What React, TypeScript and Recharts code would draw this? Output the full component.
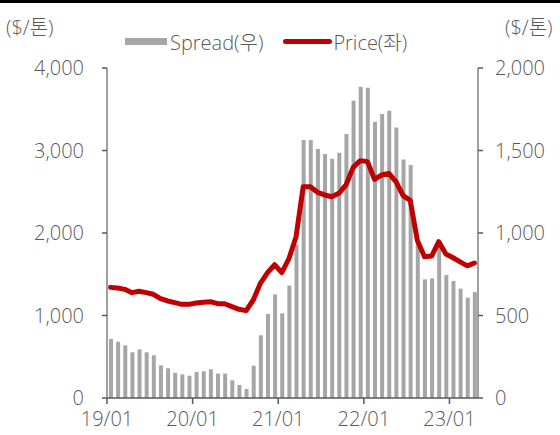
import React from "react";
import { ComposedChart, Bar, Line, XAxis, YAxis } from "recharts";

const months = [
  "19/01","19/02","19/03","19/04","19/05","19/06","19/07","19/08","19/09","19/10","19/11","19/12",
  "20/01","20/02","20/03","20/04","20/05","20/06","20/07","20/08","20/09","20/10","20/11","20/12",
  "21/01","21/02","21/03","21/04","21/05","21/06","21/07","21/08","21/09","21/10","21/11","21/12",
  "22/01","22/02","22/03","22/04","22/05","22/06","22/07","22/08","22/09","22/10","22/11","22/12",
  "23/01","23/02","23/03","23/04",
];

// Spread (right axis, $/톤)
const spread = [
  358, 341, 319, 277, 295, 277, 259, 198, 180, 153,
  143, 135, 158, 162, 174, 148, 148, 107, 79, 55,
  196, 380, 509, 628, 513, 681, 930, 1564, 1564, 1509,
  1479, 1450, 1487, 1600, 1802, 1887, 1881, 1675, 1721, 1741,
  1640, 1446, 1412, 950, 719, 725, 920, 745, 709, 663,
  608, 642,
];

// Price (left axis, $/톤)
const price = [
  1341, 1333, 1317, 1277, 1293, 1277, 1257, 1204, 1176, 1156,
  1135, 1135, 1152, 1160, 1168, 1143, 1143, 1107, 1075, 1059,
  1188, 1390, 1519, 1615, 1520, 1690, 1955, 2561, 2561, 2493,
  2461, 2440, 2481, 2582, 2796, 2877, 2865, 2651, 2703, 2723,
  2622, 2452, 2395, 1910, 1713, 1721, 1895, 1745, 1700, 1650,
  1602, 1636,
];

const xTicks = [0, 12, 24, 36, 48];
const leftTicks = [0, 1000, 2000, 3000, 4000];
const rightTicks = [0, 500, 1000, 1500, 2000];

const data = months.map((m, i) => ({
  x: i + 0.5,
  month: m,
  spread: spread[i],
  price: price[i],
}));

const FONT = "'Open Sans', 'Noto Sans CJK KR', sans-serif";
const TEXT = "#595959";
const AXIS = "#808080";
const XAXIS = "#595959";
const BAR = "#A6A6A6";
const RED = "#C00000";
const FS = 20;
const FW = 300;

const fmt = (v: number) => v.toLocaleString("en-US");

export default function App() {
  return (
    <div style={{ position: "absolute", left: 0, top: 0, width: 560, height: 435, background: "#fff" }}>
      <div style={{ position: "absolute", left: 0, top: 0, width: 560, height: 3, background: "#000" }} />
      <div
        style={{
          position: "absolute",
          left: 6,
          top: 12,
          fontFamily: FONT,
          fontSize: FS,
          fontWeight: FW,
          color: TEXT,
          whiteSpace: "nowrap",
        }}
      >
        ($/톤)
      </div>
      <div
        style={{
          position: "absolute",
          left: 505,
          top: 12,
          fontFamily: FONT,
          fontSize: FS,
          fontWeight: FW,
          color: TEXT,
          whiteSpace: "nowrap",
        }}
      >
        ($/톤)
      </div>
      <div
        style={{
          position: "absolute",
          left: 125,
          top: 27,
          display: "flex",
          alignItems: "center",
          fontFamily: FONT,
          fontSize: FS,
          fontWeight: FW,
          color: TEXT,
          whiteSpace: "nowrap",
        }}
      >
        <span style={{ display: "inline-block", width: 42, height: 7, background: BAR, marginRight: 3 }} />
        <span>Spread(우)</span>
        <span
          style={{
            display: "inline-block",
            width: 49,
            height: 5,
            borderRadius: 3,
            background: RED,
            marginLeft: 20,
            marginRight: 1,
          }}
        />
        <span>Price(좌)</span>
      </div>
      <ComposedChart
        width={560}
        height={435}
        data={data}
        margin={{ top: 68, right: 0, left: 0, bottom: 0 }}
        barCategoryGap={0}
        style={{ position: "absolute", left: 0, top: 0 }}
      >
        <XAxis
          xAxisId="x"
          dataKey="x"
          type="number"
          domain={[0, months.length]}
          ticks={xTicks}
          tickFormatter={(v: number) => months[v] ?? ""}
          height={37}
          axisLine={{ stroke: XAXIS, strokeWidth: 1.5 }}
          tickLine={{ stroke: XAXIS, strokeWidth: 1.5 }}
          tickSize={6}
          tickMargin={8}
          tick={{ fill: TEXT, fontSize: FS, fontFamily: FONT, fontWeight: FW }}
          interval={0}
          allowDecimals={false}
        />
        <YAxis
          yAxisId="left"
          orientation="left"
          domain={[0, 4000]}
          ticks={leftTicks}
          tickFormatter={fmt}
          width={107}
          axisLine={{ stroke: AXIS, strokeWidth: 1.5 }}
          tickLine={{ stroke: XAXIS, strokeWidth: 1.5 }}
          tickSize={5}
          tickMargin={18}
          tick={{ fill: TEXT, fontSize: FS, fontFamily: FONT, fontWeight: FW }}
          interval={0}
        />
        <YAxis
          yAxisId="right"
          orientation="right"
          domain={[0, 2000]}
          ticks={rightTicks}
          tickFormatter={fmt}
          width={82}
          axisLine={{ stroke: AXIS, strokeWidth: 1.5 }}
          tickLine={{ stroke: XAXIS, strokeWidth: 1.5 }}
          tickSize={5}
          tickMargin={12}
          tick={{ fill: TEXT, fontSize: FS, fontFamily: FONT, fontWeight: FW, textAnchor: "start" }}
          interval={0}
        />
        <Bar
          xAxisId="x"
          yAxisId="right"
          dataKey="spread"
          name="Spread(우)"
          fill={BAR}
          barSize={4}
          isAnimationActive={false}
        />
        <Line
          xAxisId="x"
          yAxisId="left"
          dataKey="price"
          name="Price(좌)"
          type="linear"
          stroke={RED}
          strokeWidth={5}
          strokeLinejoin="round"
          strokeLinecap="round"
          dot={false}
          activeDot={false}
          isAnimationActive={false}
        />
      </ComposedChart>
    </div>
  );
}
